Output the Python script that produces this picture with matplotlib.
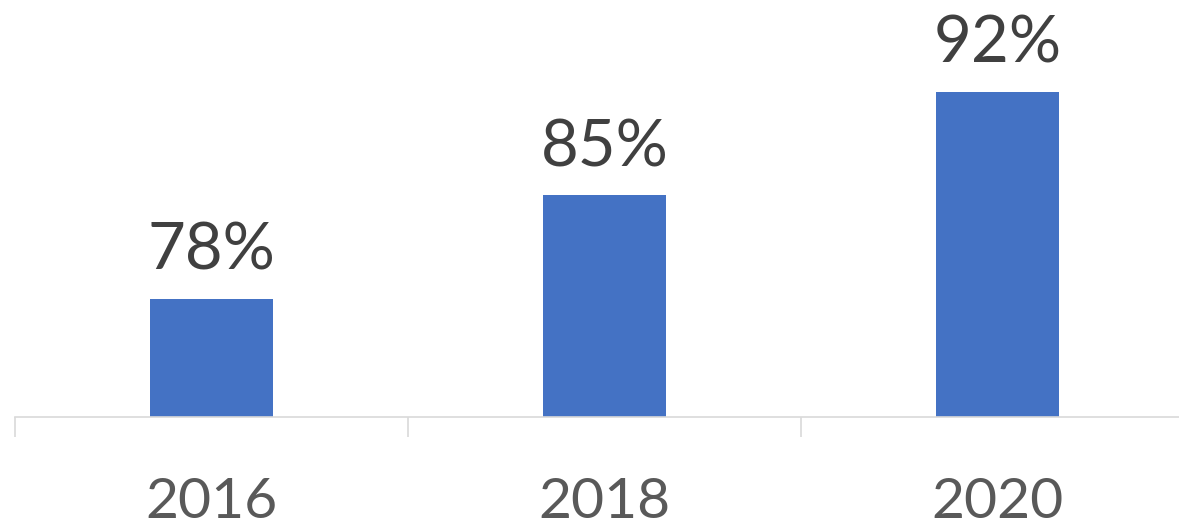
import matplotlib
matplotlib.use("Agg")
import matplotlib.pyplot as plt

years = ["2016", "2018", "2020"]
shares = [78, 85, 92]

plt.rcParams['font.family'] = ['Lato', 'DejaVu Sans']

fig = plt.figure(figsize=(11.79, 5.26), dpi=100)
ax = fig.add_axes([15 / 1179, 1 - 417.3 / 526, 1.0, 417.3 / 526])

x = list(range(len(years)))
ax.bar(x, shares, width=0.313, color='#4472C4', zorder=2)
for i, v in zip(x, shares):
    ax.annotate(f"{v}%", (i, v), xytext=(0, 21), textcoords='offset points',
                ha='center', va='baseline', fontsize=47, color='#404040')

ax.set_xlim(-0.5, 2.5)
ax.set_ylim(70, 98.2)

ax.set_xticks(x)
ax.set_xticklabels(years, fontsize=41, color='#595959')
ax.tick_params(axis='x', which='major', length=0, pad=43)
ax.set_xticks([-0.5, 0.5, 1.5, 2.5], minor=True)
ax.tick_params(axis='x', which='minor', length=14.4, width=1.2, color='#D9D9D9')
ax.set_yticks([])

for s in ['top', 'right', 'left']:
    ax.spines[s].set_visible(False)
ax.spines['bottom'].set_color('#D9D9D9')
ax.spines['bottom'].set_linewidth(1.2)

fig.savefig('out.png', dpi=100)
